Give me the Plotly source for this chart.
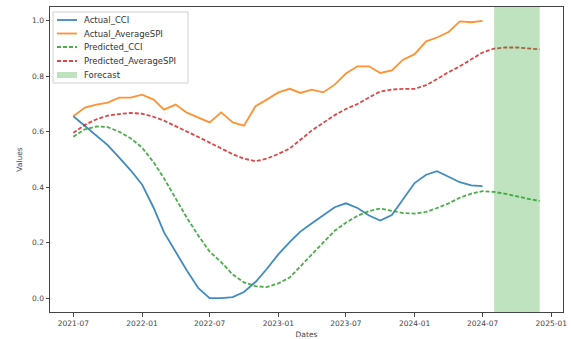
import pandas as pd
import plotly.graph_objects as go

# ---- data ----
actual_dates = pd.date_range("2021-07-01", "2024-07-01", freq="MS")
pred_dates = pd.date_range("2021-07-01", "2024-12-01", freq="MS")
forecast_start = "2024-08-01"
forecast_end = "2024-12-01"

actual_cci = [0.656, 0.622, 0.585, 0.552, 0.507, 0.462, 0.410, 0.326, 0.237, 0.165,
              0.100, 0.036, 0.000, 0.000, 0.004, 0.022, 0.058, 0.105, 0.158, 0.203,
              0.240, 0.270, 0.300, 0.328, 0.342, 0.325, 0.298, 0.280, 0.300, 0.358,
              0.415, 0.445, 0.458, 0.438, 0.418, 0.407, 0.404]

actual_spi = [0.656, 0.687, 0.698, 0.705, 0.723, 0.723, 0.734, 0.716, 0.680, 0.698,
              0.669, 0.651, 0.634, 0.670, 0.634, 0.622, 0.692, 0.716, 0.742, 0.755,
              0.740, 0.752, 0.742, 0.770, 0.810, 0.836, 0.836, 0.812, 0.821, 0.860,
              0.880, 0.926, 0.940, 0.960, 0.998, 0.995, 1.000]

pred_cci = [0.582, 0.609, 0.619, 0.617, 0.600, 0.577, 0.543, 0.490, 0.432, 0.360,
            0.290, 0.225, 0.168, 0.130, 0.085, 0.057, 0.043, 0.040, 0.053, 0.075,
            0.115, 0.160, 0.200, 0.243, 0.272, 0.297, 0.314, 0.323, 0.315, 0.307,
            0.305, 0.311, 0.325, 0.342, 0.362, 0.377, 0.386, 0.383, 0.376, 0.366,
            0.358, 0.350]

pred_spi = [0.596, 0.625, 0.645, 0.658, 0.664, 0.668, 0.665, 0.654, 0.640, 0.621,
            0.602, 0.581, 0.561, 0.540, 0.519, 0.503, 0.494, 0.503, 0.520, 0.540,
            0.572, 0.605, 0.632, 0.660, 0.682, 0.700, 0.724, 0.745, 0.752, 0.755,
            0.755, 0.768, 0.790, 0.815, 0.836, 0.862, 0.886, 0.900, 0.904, 0.904,
            0.901, 0.897]

y_ticks = [0.0, 0.2, 0.4, 0.6, 0.8, 1.0]

legend_labels = ["Actual_CCI", "Actual_AverageSPI", "Predicted_CCI",
                 "Predicted_AverageSPI", "Forecast"]

# ---- styles ----
BLUE = "#1f77b4"
ORANGE = "#ff7f0e"
GREEN = "#2ca02c"
RED = "#d62728"
AXIS = "#444444"
FONT = "DejaVu Sans"
DASH = "4px,2px"
LW = 1.8
LOP = 0.85

W, H = 571, 339
ML, MR, MT, MB = 50, 8, 7, 27
PW, PH = W - ML - MR, H - MT - MB


def px_x(px):
    return (px - ML) / PW


def px_y(py):
    return (H - MB - py) / PH


fig = go.Figure()
fig.add_trace(go.Scatter(x=actual_dates, y=actual_cci, mode="lines", name=legend_labels[0],
                         line=dict(color=BLUE, width=LW), opacity=LOP, showlegend=False))
fig.add_trace(go.Scatter(x=actual_dates, y=actual_spi, mode="lines", name=legend_labels[1],
                         line=dict(color=ORANGE, width=LW), opacity=LOP, showlegend=False))
fig.add_trace(go.Scatter(x=pred_dates, y=pred_cci, mode="lines", name=legend_labels[2],
                         line=dict(color=GREEN, width=LW, dash=DASH), opacity=LOP,
                         showlegend=False))
fig.add_trace(go.Scatter(x=pred_dates, y=pred_spi, mode="lines", name=legend_labels[3],
                         line=dict(color=RED, width=LW, dash=DASH), opacity=LOP,
                         showlegend=False))

fig.add_shape(type="rect", xref="x", yref="paper", x0=forecast_start, x1=forecast_end,
              y0=0, y1=1, fillcolor=GREEN, opacity=0.3, line_width=0, layer="above")

# ---- legend drawn matplotlib-style (compact rows) ----
fig.add_shape(type="rect", xref="paper", yref="paper",
              x0=px_x(53), x1=px_x(188), y0=px_y(83), y1=px_y(12),
              fillcolor="rgba(255,255,255,0.8)", line=dict(color="#d0d0d0", width=1),
              layer="above")
row_y = [20, 33.5, 47, 61, 75]
styles = [(BLUE, None), (ORANGE, None), (GREEN, DASH), (RED, DASH)]
for (col, dash), ry in zip(styles, row_y[:4]):
    fig.add_shape(type="line", xref="paper", yref="paper",
                  x0=px_x(57), x1=px_x(77), y0=px_y(ry), y1=px_y(ry),
                  line=dict(color=col, width=LW, dash=dash), opacity=LOP, layer="above")
fig.add_shape(type="rect", xref="paper", yref="paper",
              x0=px_x(57), x1=px_x(77), y0=px_y(row_y[4] + 3), y1=px_y(row_y[4] - 3),
              fillcolor=GREEN, opacity=0.3, line_width=0, layer="above")
for lab, ry in zip(legend_labels, row_y):
    fig.add_annotation(xref="paper", yref="paper", x=px_x(82), y=px_y(ry),
                       text=lab, showarrow=False, xanchor="left", yanchor="middle",
                       font=dict(family=FONT, size=8.5, color="#333333"))

# matplotlib-like 5% margins
d0, d1 = pred_dates[0], pred_dates[-1]
pad = (d1 - d0) * 0.05
ymin, ymax = 0.0, 1.0
ypad = (ymax - ymin) * 0.05

fig.update_layout(
    width=W, height=H,
    margin=dict(l=ML, r=MR, t=MT, b=MB, autoexpand=False),
    paper_bgcolor="white", plot_bgcolor="white",
    font=dict(family=FONT, size=7, color=AXIS),
    showlegend=False,
)
fig.update_xaxes(
    range=[d0 - pad, d1 + pad], tick0="2021-07-01", dtick="M6", tickformat="%Y-%m",
    showgrid=False, zeroline=False, showline=True, linecolor=AXIS, linewidth=1, mirror=True,
    ticks="outside", ticklen=3.5, tickcolor=AXIS, tickfont=dict(size=7.5),
    title=dict(text="Dates", font=dict(size=7.5), standoff=9), automargin=False,
)
fig.update_yaxes(
    range=[ymin - ypad, ymax + ypad], tickvals=y_ticks, tickformat=".1f",
    showgrid=False, zeroline=False, showline=True, linecolor=AXIS, linewidth=1, mirror=True,
    ticks="outside", ticklen=3.5, tickcolor=AXIS, tickfont=dict(size=7.5),
    title=dict(text="Values", font=dict(size=7.5), standoff=8), automargin=False,
)

fig.write_html("out.html")
